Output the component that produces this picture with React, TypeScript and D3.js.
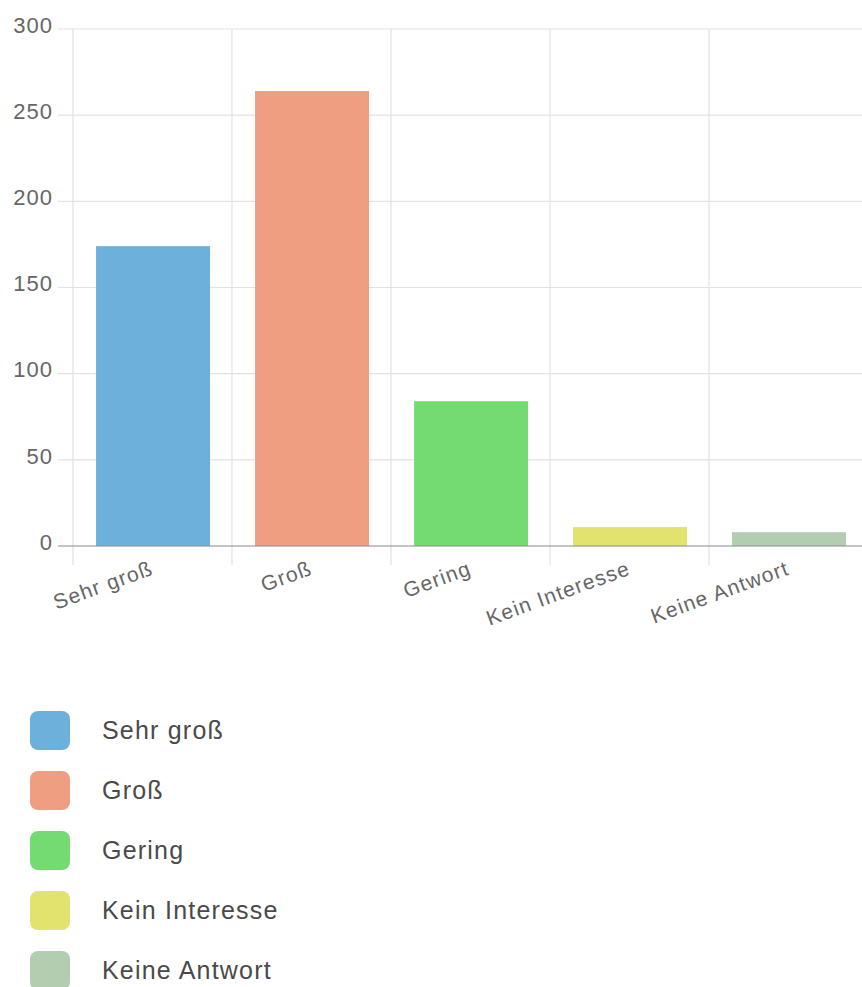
import React, { useEffect, useRef } from 'react';
import * as d3 from 'd3';

const categories: string[] = ['Sehr groß', 'Groß', 'Gering', 'Kein Interesse', 'Keine Antwort'];
const values: number[] = [174, 264, 84, 11, 8];
const colors: string[] = ['#6eb0dc', '#f09e81', '#74db73', '#e2e36f', '#b2cdaf'];
const yTicks: number[] = [0, 50, 100, 150, 200, 250, 300];

const WIDTH = 862;
const HEIGHT = 987;

const App: React.FC = () => {
    const svgRef = useRef<SVGSVGElement>(null);

    useEffect(() => {
        if (!svgRef.current) return;
        const svg = d3.select(svgRef.current);
        svg.selectAll('*').remove();

        const font = 'Arial, "Liberation Sans", Helvetica, sans-serif';

        const x = d3.scaleBand<string>()
            .domain(categories)
            .range([73, 868])
            .paddingInner(0)
            .paddingOuter(0);

        const y = d3.scaleLinear()
            .domain([0, 300])
            .range([546, 29]);

        // Horizontal grid lines (extend left as ticks)
        svg.append('g')
            .selectAll('line')
            .data(yTicks.filter(t => t !== 0))
            .enter()
            .append('line')
            .attr('x1', 58)
            .attr('x2', WIDTH)
            .attr('y1', d => y(d))
            .attr('y2', d => y(d))
            .attr('stroke', '#e2e2e2')
            .attr('stroke-width', 1.2);

        // Vertical grid lines at band edges (extend below axis as ticks)
        const edges = categories.map(c => x(c) as number);
        svg.append('g')
            .selectAll('line')
            .data(edges)
            .enter()
            .append('line')
            .attr('x1', d => d)
            .attr('x2', d => d)
            .attr('y1', y(300))
            .attr('y2', 565)
            .attr('stroke', '#e2e2e2')
            .attr('stroke-width', 1.2);

        // Bars
        const bw = x.bandwidth();
        svg.append('g')
            .selectAll('rect')
            .data(values)
            .enter()
            .append('rect')
            .attr('x', (_, i) => (x(categories[i]) as number) + bw * 0.145)
            .attr('width', bw * 0.717)
            .attr('y', d => y(d))
            .attr('height', d => y(0) - y(d))
            .attr('fill', (_, i) => colors[i]);

        // Zero axis line
        svg.append('line')
            .attr('x1', 58)
            .attr('x2', WIDTH)
            .attr('y1', y(0))
            .attr('y2', y(0))
            .attr('stroke', '#8a8a8a')
            .attr('stroke-width', 1.2);

        // Y tick labels
        svg.append('g')
            .selectAll('text')
            .data(yTicks)
            .enter()
            .append('text')
            .attr('x', 53)
            .attr('y', d => y(d) - 2)
            .attr('text-anchor', 'end')
            .attr('dominant-baseline', 'middle')
            .attr('font-family', font)
            .attr('font-size', 22)
            .attr('letter-spacing', 1)
            .attr('fill', '#666')
            .text(d => d);

        // X tick labels, rotated
        svg.append('g')
            .selectAll('text')
            .data(categories)
            .enter()
            .append('text')
            .attr('transform', d => `translate(${(x(d) as number) + bw / 2 + 2}, 574) rotate(-20)`)
            .attr('text-anchor', 'end')
            .attr('font-family', font)
            .attr('font-size', 21)
            .attr('letter-spacing', 1.2)
            .attr('fill', '#666')
            .text(d => d);

        // Legend
        const legend = svg.append('g')
            .selectAll('g')
            .data(categories)
            .enter()
            .append('g')
            .attr('transform', (_, i) => `translate(30, ${711 + i * 60})`);

        legend.append('rect')
            .attr('width', 40)
            .attr('height', 39)
            .attr('rx', 8)
            .attr('fill', (_, i) => colors[i]);

        legend.append('text')
            .attr('x', 72)
            .attr('y', 28)
            .attr('font-family', font)
            .attr('font-size', 25)
            .attr('letter-spacing', 1.2)
            .attr('fill', '#4a4a4a')
            .text(d => d);
    }, []);

    return (
        <svg
            ref={svgRef}
            width={WIDTH}
            height={HEIGHT}
            style={{ position: 'absolute', left: 0, top: 0, background: '#fff' }}
        />
    );
};

export default App;
